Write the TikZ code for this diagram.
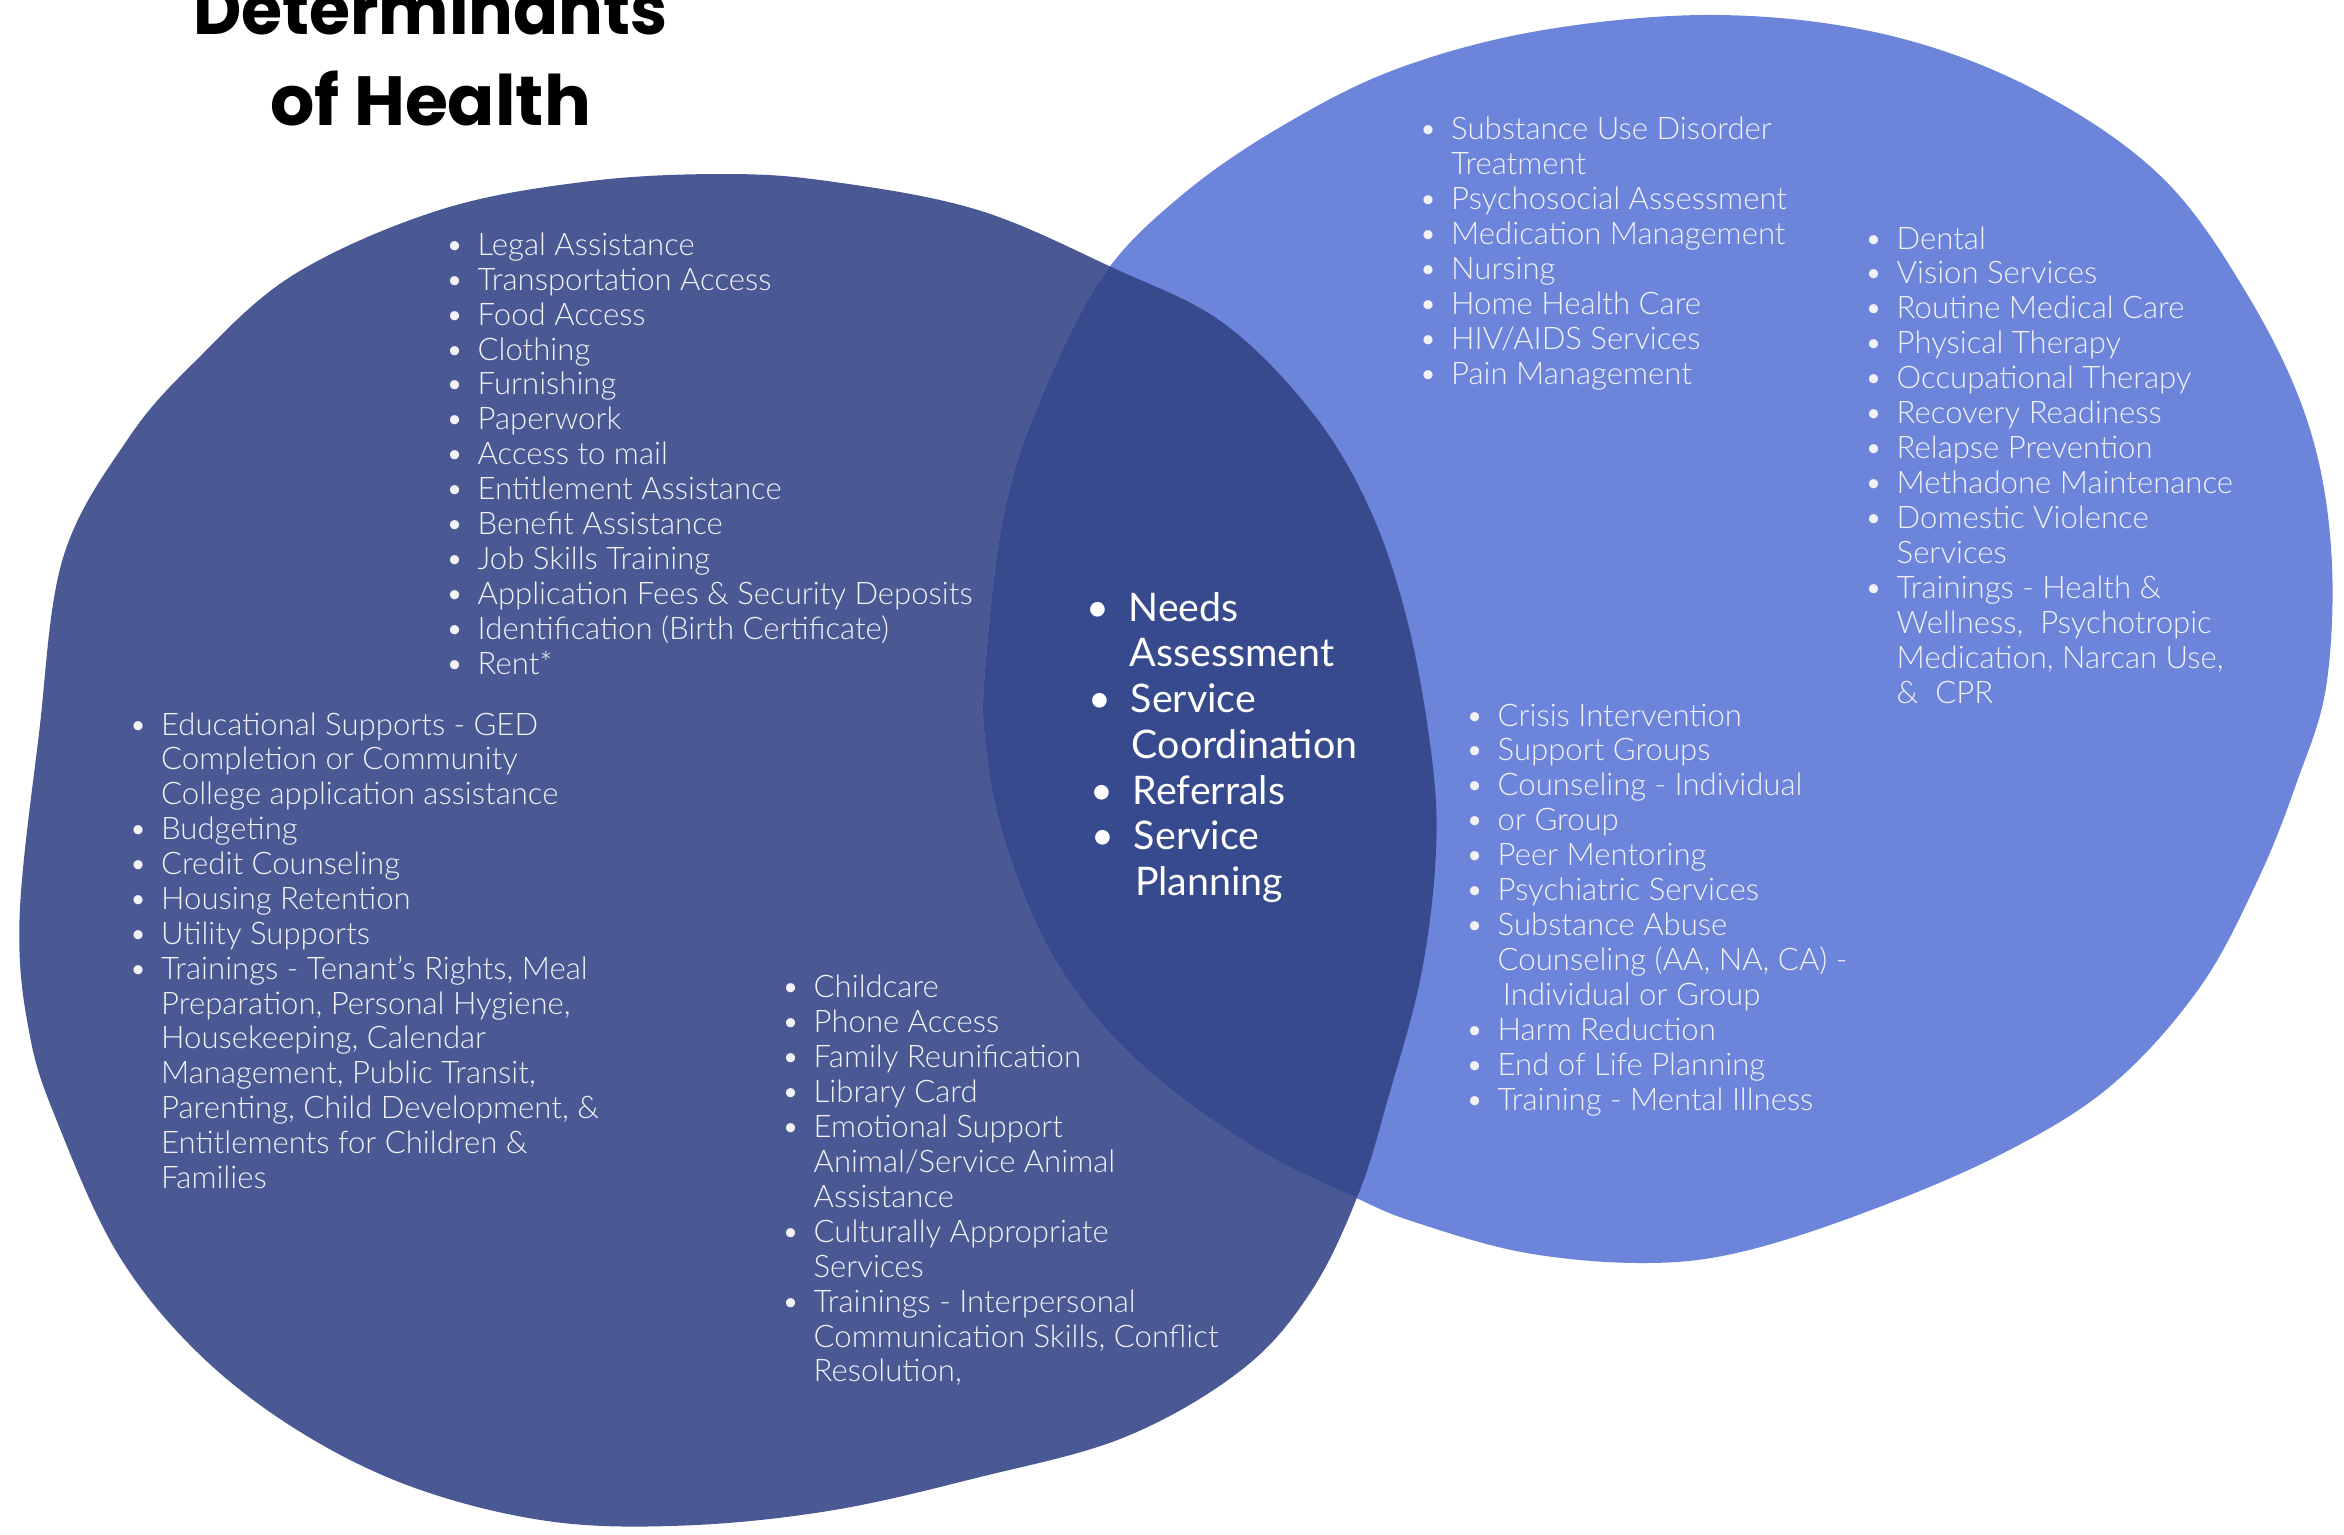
\documentclass[tikz,border=0pt]{standalone}
\usepackage{fontspec}
\setmainfont{Lato}
\newfontfamily\lightfont{Lato Light}
\newfontfamily\titlefont{Poppins}
\definecolor{leftblue}{HTML}{4A5994}
\definecolor{rightblue}{HTML}{6C85DB}
\definecolor{midblue}{HTML}{374A8E}
\definecolor{itemtext}{HTML}{F2F2F6}
\newcommand\bu{\llap{\textbullet\hspace{4pt}}}
\newcommand\cbu{\llap{\textbullet\hspace{5.5pt}}}
\tikzset{
  itemline/.style={font=\lightfont\fontsize{8.85}{10}\selectfont, text=itemtext, inner sep=0pt, anchor=base west},
  coreline/.style={font=\fontsize{11.2}{13}\selectfont, text=white, inner sep=0pt, anchor=base west},
  titleline/.style={font=\titlefont\bfseries\fontsize{19.8}{26}\selectfont, text=black, inner sep=0pt, anchor=base},
}
% name, x, first baseline, pitch, style, list of b|c/text
\newcommand\blist[6]{%
  \foreach \k/\t [count=\i] in {#6} {%
    \node[#5] (#1\i) at (#2, {#3+(\i-1)*#4}) {\if b\k\bu\fi\t};
  }%
}
\begin{document}
\begin{tikzpicture}[x=0.015cm, y=-0.015cm]
\useasboundingbox (0,0) rectangle (1562.67,1022.67);
% blobs
\path[save path=\LBpath] plot[smooth cycle, tension=0.6] coordinates {
 (482,116) (554,121) (652,140) (743,179) (815,215) (874,274) (913,339) (939,417)
 (955,509) (957,574) (947,652) (926,730) (906,795) (874,861) (828,913) (750,958)
 (652,985) (554,1007) (456,1017) (365,1014) (274,991) (196,952) (130,900) (78,835)
 (39,750) (20,691) (13,613) (26,489) (42,372) (85,293) (130,241) (196,183) (293,140) (391,121)};
\path[save path=\RBpath] plot[smooth cycle, tension=0.6] coordinates {
 (657,443) (670,339) (696,261) (736,183) (788,130) (853,85) (931,46) (1029,20)
 (1146,10) (1257,23) (1355,59) (1440,117) (1498,196) (1538,280) (1554,365) (1551,456)
 (1531,522) (1505,587) (1466,659) (1407,724) (1335,769) (1244,808) (1159,835) (1094,842)
 (1016,835) (944,815) (905,799) (833,763) (755,704) (703,639) (670,561) (657,496)};
\fill[leftblue, use path=\LBpath];
\fill[rightblue, use path=\RBpath];
\begin{scope}
  \clip[use path=\RBpath];
  \fill[midblue, use path=\LBpath];
\end{scope}
% title
\node[titleline] (t1) at (287,23) {\scalebox{0.955}[1]{Determinants}};
\node[titleline] (t2) at (287,83.5) {of Health};
% lists
\blist{A}{318}{170}{23.33}{itemline}{b/Legal Assistance, b/Transportation Access, b/Food Access, b/Clothing, b/Furnishing, b/Paperwork, b/Access to mail, b/Entitlement Assistance, b/Benefit Assistance, b/Job Skills Training, b/Application Fees \& Security Deposits, b/Identification (Birth Certificate), b/Rent*}
\blist{B}{107}{490}{23.25}{itemline}{b/Educational Supports - GED, c/Completion or Community, c/College application assistance, b/Budgeting, b/Credit Counseling, b/Housing Retention, b/Utility Supports, b/{Trainings - Tenant’s Rights, Meal}, c/{Preparation, Personal Hygiene,}, c/{Housekeeping, Calendar}, c/{Management, Public Transit,}, c/{Parenting, Child Development, \&}, c/Entitlements for Children \&, c/Families}
\blist{C}{542}{665}{23.3}{itemline}{b/Childcare, b/Phone Access, b/Family Reunification, b/Library Card, b/Emotional Support, c/{Animal/Service Animal}, c/Assistance, b/Culturally Appropriate, c/Services, b/Trainings - Interpersonal, c/{Communication Skills, Conflict}, c/{Resolution,}}
\blist{D}{967}{93}{23.3}{itemline}{b/Substance Use Disorder, c/Treatment, b/Psychosocial Assessment, b/Medication Management, b/Nursing, b/Home Health Care, b/{HIV/AIDS Services}, b/Pain Management}
\blist{E}{1264}{166}{23.3}{itemline}{b/Dental, b/Vision Services, b/Routine Medical Care, b/Physical Therapy, b/Occupational Therapy, b/Recovery Readiness, b/Relapse Prevention, b/Methadone Maintenance, b/Domestic Violence, c/Services, b/Trainings - Health \&, c/{Wellness,~ Psychotropic}, c/{Medication, Narcan Use,}, c/\&~ CPR}
\blist{F}{998}{484}{23.3}{itemline}{b/Crisis Intervention, b/Support Groups, b/Counseling - Individual, b/or Group, b/Peer Mentoring, b/Psychiatric Services, b/Substance Abuse, c/{Counseling (AA, NA, CA) -}, c/{\hspace{1.5pt}Individual or Group}, b/Harm Reduction, b/End of Life Planning, b/Training - Mental Illness}
% core services
\foreach \k/\t [count=\i] in {b/Needs, c/Assessment, b/Service, c/Coordination, b/Referrals, b/Service, c/Planning} {
  \node[coreline] (G\i) at ({752+0.7*(\i-1)}, {414+(\i-1)*30.5}) {\if b\k\cbu\fi\t};
}
\end{tikzpicture}
\end{document}
